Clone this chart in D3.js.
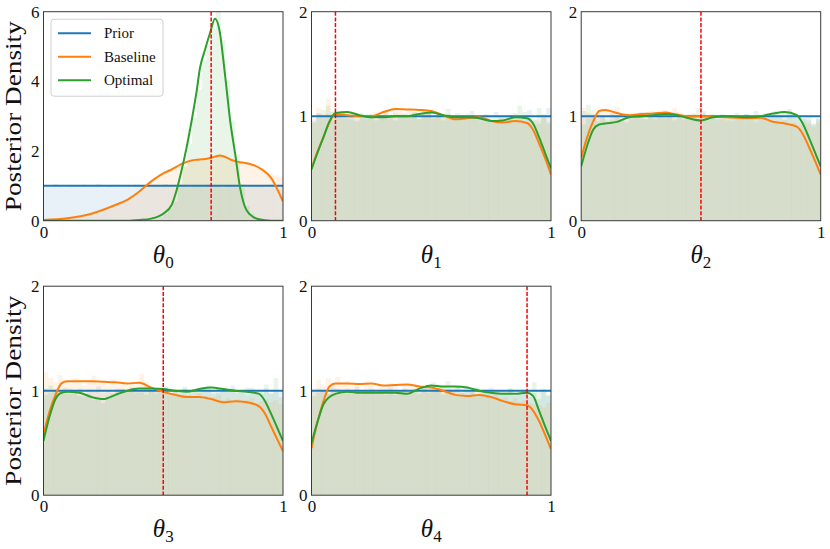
<!DOCTYPE html>
<html><head><meta charset="utf-8">
<script src="https://cdn.jsdelivr.net/npm/d3@7"></script>
<style>body{margin:0;background:#fff}svg{display:block}</style>
</head><body>
<svg id="chart" width="830" height="549"></svg>
<script>
// ---------------- data ----------------
const seriesNames = ["Prior", "Baseline", "Optimal"];
const paramSubs = ["0", "1", "2", "3", "4"];
const trueTheta = [0.7, 0.1, 0.5, 0.5, 0.9];
const yMaxes = [6, 2, 2, 2, 2];
const yTicksFirst = [0, 2, 4, 6];
const yTicksOther = [0, 1, 2];
const xTickVals = [0, 1];
const priorLevel = 1;

// KDE grids
const kdeX0 = [0,0.1,0.2,0.3,0.35,0.4,0.45,0.5,0.535,0.556,0.577,0.598,0.619,0.64,0.653,0.674,0.695,0.716,0.737,0.751,0.765,0.779,0.8,0.82,0.841,0.862,0.9,0.95,1];
const kdeX = [0,0.025,0.05,0.075,0.1,0.15,0.2,0.25,0.3,0.35,0.4,0.45,0.5,0.55,0.6,0.65,0.7,0.75,0.8,0.85,0.9,0.925,0.95,0.975,1];

const kdeBase0 = [0.02,0.07,0.2,0.45,0.6,0.84,1.13,1.36,1.47,1.55,1.63,1.69,1.73,1.75,1.76,1.77,1.8,1.84,1.87,1.85,1.81,1.76,1.71,1.68,1.66,1.63,1.52,1.23,0.55];
const kdeOpt0  = [0,0,0,0,0,0.02,0.06,0.2,0.45,0.88,1.46,2.12,2.89,3.75,4.37,4.9,5.38,5.8,5.38,4.61,3.75,2.89,1.93,0.98,0.4,0.18,0.04,0,0];

const kdeBase1 = [0.5,0.66,0.8,0.94,1.02,1.01,1.0,1.0,1.04,1.07,1.065,1.06,1.05,1.01,0.97,0.98,0.99,0.955,0.94,0.955,0.935,0.87,0.74,0.6,0.44];
const kdeOpt1  = [0.49,0.65,0.8,0.95,1.03,1.04,1.01,0.99,0.99,1.0,1.0,1.02,1.035,1.01,0.99,0.99,0.98,0.955,0.96,0.99,0.98,0.93,0.8,0.65,0.5];

const kdeBase2 = [0.6,0.8,0.95,1.05,1.06,1.03,1.01,1.02,1.025,1.035,1.016,1.0,1.0,0.995,0.99,0.985,0.98,0.985,0.946,0.93,0.9,0.83,0.71,0.58,0.44];
const kdeOpt2  = [0.52,0.72,0.87,0.92,0.93,0.946,0.99,1.0,1.01,1.02,1.01,0.98,0.96,0.99,1.0,0.995,0.99,1.0,1.025,1.04,1.01,0.93,0.8,0.66,0.52];

const kdeBase3 = [0.58,0.8,0.96,1.07,1.09,1.09,1.09,1.085,1.08,1.07,1.075,1.03,0.99,0.96,0.94,0.94,0.92,0.89,0.9,0.89,0.85,0.78,0.66,0.54,0.42];
const kdeOpt3  = [0.52,0.75,0.92,0.98,0.99,0.98,0.94,0.92,0.96,1.0,1.02,1.02,1.016,1.0,0.99,1.016,1.03,1.016,1.0,0.99,0.97,0.9,0.78,0.65,0.52];

const kdeBase4 = [0.45,0.7,0.9,1.04,1.07,1.07,1.065,1.07,1.05,1.055,1.06,1.04,1.03,1.0,0.96,0.95,0.96,0.94,0.9,0.87,0.86,0.81,0.71,0.58,0.44];
const kdeOpt4  = [0.5,0.7,0.87,0.94,0.97,0.99,0.98,0.98,0.98,0.98,0.97,1.02,1.05,1.04,1.04,1.03,1.0,0.98,0.97,0.97,0.98,0.95,0.81,0.66,0.52];

// Histograms (50 bins on [0,1], density)
const histPrior0 = [1.02,0.97,1.05,0.99,0.96,1.03,1.01,0.98,1.04,0.97,1.00,1.06,0.95,1.02,0.99,1.03,0.98,1.01,0.96,1.04,1.00,0.97,1.03,1.02,0.98,1.05,0.99,0.96,1.01,1.03,0.97,1.02,1.00,0.98,1.04,0.99,1.01,0.96,1.03,1.00,0.98,1.05,0.97,1.02,0.99,1.01,0.96,1.04,0.98,1.02];
const histBase0 = [0.03,0.04,0.05,0.06,0.07,0.08,0.10,0.12,0.14,0.18,0.21,0.24,0.28,0.33,0.40,0.46,0.52,0.62,0.70,0.80,0.90,1.02,1.12,1.24,1.33,1.42,1.48,1.56,1.62,1.68,1.72,1.76,1.75,1.80,1.78,1.85,1.90,1.86,1.80,1.76,1.72,1.68,1.66,1.62,1.55,1.50,1.42,1.35,1.30,1.25];
const histOpt0 = [0,0,0,0,0,0,0,0,0,0,0,0,0,0,0,0,0,0,0,0,0.01,0.01,0.02,0.05,0.1,0.2,0.35,0.55,1.05,1.55,2.2,2.95,3.75,4.6,5.05,5.5,6.2,5.2,4.0,2.85,1.9,0.95,0.42,0.2,0.08,0.03,0,0,0,0];

const histPrior1 = [0.97,1.03,0.99,1.02,0.96,1.01,1.04,0.98,1.00,0.95,1.03,0.99,1.02,0.97,1.01,1.05,0.98,0.96,1.02,1.00,0.99,1.03,0.97,1.01,1.04,0.98,1.00,0.96,1.02,0.99,1.03,1.01,0.97,1.05,0.98,1.00,1.02,0.96,1.04,0.99,1.01,0.97,1.03,0.98,1.00,1.06,0.97,0.93,1.02,1.08];
const histBase1 = [0.95,1.08,1.02,1.17,1.05,0.99,0.98,1.03,0.96,1.01,0.98,0.97,1.02,1.04,0.99,1.06,1.02,1.08,1.05,1.03,1.07,1.04,1.02,1.06,1.03,0.98,1.01,0.99,1.02,0.97,0.96,1.00,0.99,1.01,0.97,0.95,0.98,0.94,0.96,0.99,0.93,0.97,0.95,0.96,0.94,0.98,0.92,0.96,0.99,0.95];
const histOpt1 = [0.94,1.02,1.06,1.10,1.04,1.00,1.03,0.99,1.01,0.97,0.98,1.02,0.99,0.96,1.01,0.98,1.00,1.03,0.99,1.02,1.01,1.04,0.98,1.05,1.06,1.00,1.02,0.99,1.07,1.00,0.98,0.99,1.02,1.00,0.97,0.98,0.96,0.99,0.95,0.97,0.98,1.01,0.99,1.10,1.04,0.97,0.96,1.08,0.99,0.93];

const histPrior2 = [1.05,0.98,1.02,0.99,1.01,0.97,1.03,1.00,0.96,1.02,0.98,1.01,1.04,0.97,0.99,1.02,1.00,0.98,1.03,0.96,1.01,0.99,1.02,1.00,0.97,1.03,0.99,1.01,0.98,1.02,0.96,1.00,1.03,0.99,1.02,0.97,1.05,1.01,0.98,0.99,1.02,1.00,0.97,1.03,0.99,1.01,0.98,0.96,0.92,0.98];
const histBase2 = [1.08,1.03,1.06,1.02,1.05,1.07,1.04,1.09,1.03,0.96,1.01,1.02,0.97,1.04,1.05,1.03,1.00,1.06,1.02,1.08,1.04,0.99,1.01,1.03,0.98,1.00,0.97,0.99,0.96,0.98,0.99,0.95,0.97,1.00,0.96,0.98,0.94,0.99,0.96,0.97,0.95,0.93,0.96,0.92,0.94,0.91,0.95,0.93,0.90,0.94];
const histOpt2 = [0.92,1.11,0.98,0.95,0.99,0.93,0.96,1.00,0.97,0.94,1.02,0.99,1.01,0.98,1.03,0.97,1.01,1.04,0.99,0.98,1.00,0.97,0.99,1.02,1.08,1.05,0.96,1.02,0.98,0.97,1.00,1.01,0.98,0.99,1.02,0.97,0.99,1.00,1.03,1.01,1.05,1.02,1.04,1.07,1.03,1.00,0.98,0.99,0.93,0.97];

const histPrior3 = [1.02,0.98,1.01,0.99,1.03,0.97,1.00,1.02,0.96,1.01,0.99,1.04,0.98,1.00,0.97,1.02,1.01,0.99,1.03,0.98,1.00,0.96,1.02,0.99,1.01,1.04,0.98,1.00,0.97,1.02,0.99,1.01,0.98,1.03,1.00,0.97,1.02,0.99,1.01,1.05,0.98,1.00,1.03,0.99,1.01,0.97,1.02,0.98,1.00,0.99];
const histBase3 = [1.18,1.12,1.08,1.15,1.10,1.06,1.12,1.08,1.05,1.10,1.14,1.07,1.09,1.05,1.11,1.06,1.08,1.04,1.09,1.06,1.16,1.08,1.03,0.97,1.00,0.98,0.95,0.99,0.97,0.94,0.96,0.93,0.98,0.95,0.92,0.94,0.96,0.91,0.93,0.90,0.92,0.89,0.91,0.93,0.88,0.90,0.92,0.89,0.91,0.87];
const histOpt3 = [0.96,1.05,1.00,0.98,0.97,1.02,0.99,0.95,0.94,0.97,0.91,0.93,0.88,0.95,0.98,1.00,1.02,0.99,1.03,1.01,0.98,1.05,1.00,1.01,1.03,1.00,0.98,0.99,1.01,1.04,0.97,0.99,1.02,1.03,1.05,1.00,0.98,1.01,0.99,1.02,1.00,0.98,0.96,1.03,0.99,1.01,1.06,0.97,1.12,0.94];

const histPrior4 = [0.99,1.02,1.00,0.97,1.03,1.01,0.98,1.02,0.99,1.04,0.97,1.00,1.02,0.98,1.01,0.96,1.03,0.99,1.00,1.02,0.97,1.01,0.99,1.03,0.98,1.00,1.02,0.96,1.01,0.99,1.04,0.98,1.00,1.02,0.97,1.01,0.99,1.03,0.98,1.00,0.97,1.02,0.95,0.99,1.01,0.94,0.98,0.92,1.00,0.96];
const histBase4 = [1.02,1.10,1.05,1.12,1.08,1.13,1.06,1.09,1.04,1.07,0.97,1.08,1.05,1.03,1.06,1.02,1.07,1.04,1.01,1.05,1.06,1.03,0.99,1.05,1.02,1.04,1.00,1.03,0.97,1.01,0.95,0.98,0.96,0.99,0.94,0.97,0.95,0.93,0.96,0.92,0.94,0.90,0.93,0.89,0.91,0.88,0.87,0.86,0.84,0.88];
const histOpt4 = [0.95,0.98,1.01,0.97,0.99,1.02,0.98,1.00,0.97,0.99,1.01,0.98,1.00,0.97,0.99,1.02,0.98,0.96,0.99,1.00,0.98,1.01,0.97,1.03,1.05,1.08,1.06,1.04,1.09,1.03,1.05,1.02,1.04,1.00,1.03,0.99,1.01,0.98,1.00,0.97,0.99,1.02,0.98,0.97,1.01,0.96,1.08,0.99,1.02,0.95];

// ---------------- assembly ----------------
const panels = [
  {x: kdeX0, base: kdeBase0, opt: kdeOpt0, hists: [histPrior0, histBase0, histOpt0]},
  {x: kdeX,  base: kdeBase1, opt: kdeOpt1, hists: [histPrior1, histBase1, histOpt1]},
  {x: kdeX,  base: kdeBase2, opt: kdeOpt2, hists: [histPrior2, histBase2, histOpt2]},
  {x: kdeX,  base: kdeBase3, opt: kdeOpt3, hists: [histPrior3, histBase3, histOpt3]},
  {x: kdeX,  base: kdeBase4, opt: kdeOpt4, hists: [histPrior4, histBase4, histOpt4]}
];
const colors = ["#1f77b4", "#ff7f0e", "#2ca02c"];
const FONT = "'Liberation Serif', 'DejaVu Serif', serif";

const colLeft = [43.5, 311.5, 581.2];
const rowTop = [11.7, 286.2];
const W = 239.5, H = 209;

const svg = d3.select("#chart");
const defs = svg.append("defs");

panels.forEach((p, i) => {
  const col = i % 3, row = Math.floor(i / 3);
  const g = svg.append("g").attr("transform", `translate(${colLeft[col]},${rowTop[row]})`);
  const x = d3.scaleLinear().domain([0, 1]).range([0, W]);
  const y = d3.scaleLinear().domain([0, yMaxes[i]]).range([H, 0]);

  defs.append("clipPath").attr("id", "clip" + i)
    .append("rect").attr("width", W).attr("height", H);
  const plot = g.append("g").attr("clip-path", `url(#clip${i})`);

  // histograms
  p.hists.forEach((h, s) => {
    const nb = h.length;
    plot.append("g").selectAll("rect").data(h).join("rect")
      .attr("x", (d, k) => x(k / nb))
      .attr("width", (d, k) => x((k + 1) / nb) - x(k / nb))
      .attr("y", d => y(d))
      .attr("height", d => y(0) - y(d))
      .attr("fill", colors[s])
      .attr("fill-opacity", 0.1);
  });

  // prior line
  plot.append("line")
    .attr("x1", x(0)).attr("x2", x(1))
    .attr("y1", y(priorLevel)).attr("y2", y(priorLevel))
    .attr("stroke", colors[0]).attr("stroke-width", 2);

  const line = d3.line().x(d => x(d[0])).y(d => y(d[1])).curve(d3.curveMonotoneX);
  [p.base, p.opt].forEach((vals, s) => {
    plot.append("path")
      .datum(p.x.map((xv, k) => [xv, vals[k]]))
      .attr("d", line)
      .attr("fill", "none")
      .attr("stroke", colors[s + 1])
      .attr("stroke-width", 2)
      .attr("stroke-linejoin", "round");
  });

  // true value line
  plot.append("line")
    .attr("x1", x(trueTheta[i])).attr("x2", x(trueTheta[i]))
    .attr("y1", 0).attr("y2", H)
    .attr("stroke", "#ff0000").attr("stroke-width", 1.5)
    .attr("stroke-dasharray", "4,1.7");

  // frame
  g.append("rect").attr("width", W).attr("height", H)
    .attr("fill", "none").attr("stroke", "#3a3a3a").attr("stroke-width", 1);

  // axes
  const ya = g.append("g").call(d3.axisLeft(y).tickValues(i === 0 ? yTicksFirst : yTicksOther)
      .tickSize(0).tickPadding(4).tickFormat(d3.format("d")));
  const xa = g.append("g").attr("transform", `translate(0,${H})`)
    .call(d3.axisBottom(x).tickValues(xTickVals).tickSize(0).tickPadding(5).tickFormat(d3.format("d")));
  [ya, xa].forEach(a => {
    a.select(".domain").remove();
    a.selectAll("text").attr("font-family", FONT).attr("font-size", 17).attr("fill", "#111");
  });

  // x label
  const lab = g.append("text")
    .attr("x", W / 2).attr("y", H + 42)
    .attr("text-anchor", "middle")
    .attr("font-family", FONT).attr("fill", "#111");
  lab.append("tspan").attr("font-size", 25).attr("font-style", "italic").text("θ");
  lab.append("tspan").attr("font-size", 17).attr("dy", 5).text(paramSubs[i]);

  // y label
  if (col === 0) {
    svg.append("text")
      .attr("transform", `translate(21,${rowTop[row] + H / 2}) rotate(-90)`)
      .attr("text-anchor", "middle")
      .attr("font-family", FONT).attr("font-size", 24).attr("fill", "#111")
      .attr("textLength", 190).attr("lengthAdjust", "spacingAndGlyphs")
      .text("Posterior Density");
  }

  // legend
  if (i === 0) {
    const lg = g.append("g").attr("transform", "translate(7.5,7.5)");
    lg.append("rect").attr("width", 112).attr("height", 77).attr("rx", 3)
      .attr("fill", "#fff").attr("fill-opacity", 0.8)
      .attr("stroke", "#d0d0d0").attr("stroke-width", 1);
    seriesNames.forEach((n, s) => {
      const yy = 14 + s * 23.5;
      lg.append("line").attr("x1", 7).attr("x2", 40).attr("y1", yy).attr("y2", yy)
        .attr("stroke", colors[s]).attr("stroke-width", 2);
      lg.append("text").attr("x", 53).attr("y", yy).attr("dy", "0.35em")
        .attr("font-family", FONT).attr("font-size", 15).attr("fill", "#111").text(n);
    });
  }
});
</script>
</body></html>
